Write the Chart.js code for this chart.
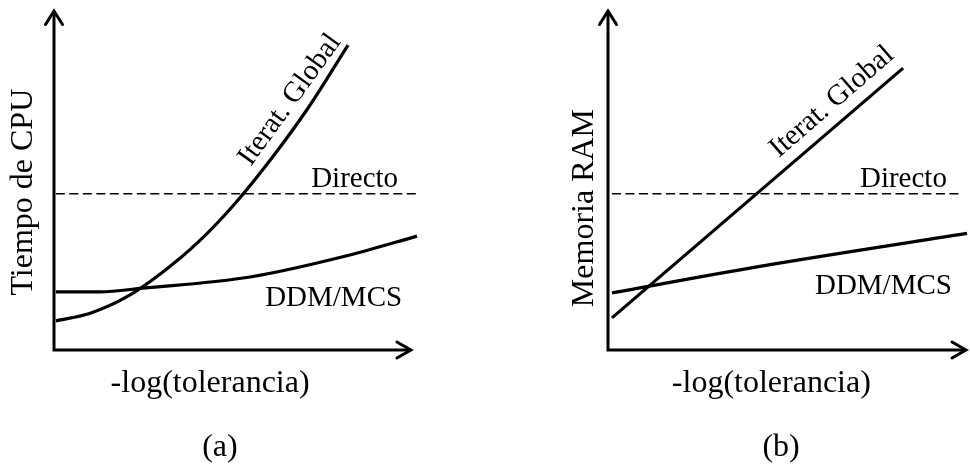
<!DOCTYPE html>
<html>
<head>
<meta charset="utf-8">
<script src="https://cdn.jsdelivr.net/npm/chart.js@4/dist/chart.umd.min.js"></script>
<style>
  html, body { margin: 0; padding: 0; background: #fff; }
  #wrap { position: relative; width: 970px; height: 473px; overflow: hidden; }
  canvas { position: absolute; top: 0; }
  #ca { left: 0; }
  #cb { left: 485px; }
</style>
</head>
<body>
<div id="wrap">
  <canvas id="ca" width="485" height="473"></canvas>
  <canvas id="cb" width="485" height="473"></canvas>
</div>
<script>
// ---- texts ----
const xAxisTitle = '-log(tolerancia)';
const yAxisTitles = ['Tiempo de CPU', 'Memoria RAM'];
const panelLabels = ['(a)', '(b)'];
const seriesNames = ['Iterat. Global', 'Directo', 'DDM/MCS'];

// ---- panel (a): CPU time ----
const cpuIterX = [0.05, 1, 2, 3, 4, 5, 6, 7, 8.1];
const cpuIterY = [0.86, 1.09, 1.57, 2.31, 3.22, 4.35, 5.68, 7.16, 9.02];
const cpuDirX  = [0.05, 10];
const cpuDirY  = [4.62, 4.62];
const cpuDdmX  = [0.05, 1.27, 2.45, 5.40, 8.15, 10];
const cpuDdmY  = [1.72, 1.72, 1.83, 2.16, 2.81, 3.37];

// ---- panel (b): RAM memory ----
const ramIterX = [0.11, 8.22];
const ramIterY = [0.95, 8.34];
const ramDirX  = [0.11, 9.81];
const ramDirY  = [4.62, 4.62];
const ramDdmX  = [0.11, 4.15, 10];
const ramDdmY  = [1.69, 2.46, 3.45];

function pts(xs, ys) { return xs.map((x, i) => ({ x: x, y: ys[i] })); }

const FONT = '"Liberation Serif", "Times New Roman", serif';

function makePlugin(cfg) {
  return {
    id: 'decor',
    afterDatasetsDraw(chart) {
      const ctx = chart.ctx;
      const xs = chart.scales.x, ys = chart.scales.y;
      const X = v => xs.getPixelForValue(v), Y = v => ys.getPixelForValue(v);
      ctx.save();
      ctx.strokeStyle = '#000';
      ctx.fillStyle = '#000';
      ctx.lineWidth = 3;
      ctx.lineCap = 'butt';
      ctx.lineJoin = 'miter';
      // axes
      const ox = X(0), oy = Y(0);
      const ty = Y(cfg.yTip), tx = X(cfg.xTip);
      ctx.beginPath();
      ctx.moveTo(ox, oy + 1.5); ctx.lineTo(ox, ty + 1);
      ctx.moveTo(ox - 1.5, oy); ctx.lineTo(tx - 1, oy);
      ctx.stroke();
      ctx.lineCap = 'round';
      ctx.beginPath();
      ctx.moveTo(ox - 8.5, ty + 14.5); ctx.lineTo(ox, ty + 1); ctx.lineTo(ox + 8.5, ty + 14.5);
      ctx.moveTo(tx - 15, oy - 8); ctx.lineTo(tx - 1, oy); ctx.lineTo(tx - 15, oy + 8);
      ctx.stroke();
      // texts
      cfg.texts.forEach(t => {
        ctx.save();
        ctx.font = t.size + 'px ' + FONT;
        ctx.textAlign = t.align;
        ctx.textBaseline = t.base;
        ctx.translate(X(t.x), Y(t.y));
        ctx.rotate((t.rot || 0) * Math.PI / 180);
        ctx.fillText(t.text, 0, 0);
        ctx.restore();
      });
      ctx.restore();
    }
  };
}

function makeChart(id, iter, dir, ddm, pad, cfg) {
  const solid = { borderColor: '#000', borderWidth: 3.2, pointRadius: 0, fill: false,
                  cubicInterpolationMode: 'monotone', clip: false, borderCapStyle: 'butt' };
  return new Chart(document.getElementById(id), {
    type: 'line',
    data: {
      datasets: [
        Object.assign({ label: seriesNames[0], data: iter }, solid),
        { label: seriesNames[1], data: dir, borderColor: '#000', borderWidth: 1.5,
          borderDash: [9, 4.5], pointRadius: 0, fill: false, clip: false },
        Object.assign({ label: seriesNames[2], data: ddm }, solid)
      ]
    },
    options: {
      responsive: false,
      animation: false,
      events: [],
      layout: { padding: pad },
      scales: {
        x: { type: 'linear', min: 0, max: 10, display: false },
        y: { type: 'linear', min: 0, max: 10, display: false }
      },
      plugins: { legend: { display: false }, tooltip: { enabled: false } }
    },
    plugins: [makePlugin(cfg)]
  });
}

makeChart('ca', pts(cpuIterX, cpuIterY), pts(cpuDirX, cpuDirY), pts(cpuDdmX, cpuDdmY),
  { left: 54, right: 68, top: 12, bottom: 123 },
  { yTip: 10.06, xTip: 9.86,
    texts: [
      { text: seriesNames[0], x: 6.50, y: 7.40, rot: -54, size: 29, align: 'center', base: 'middle' },
      { text: seriesNames[1], x: 9.48, y: 4.82, size: 29, align: 'right', base: 'alphabetic' },
      { text: seriesNames[2], x: 9.59, y: 1.30, size: 29, align: 'right', base: 'alphabetic' },
      { text: yAxisTitles[0], x: -0.83, y: 4.67, rot: -90, size: 32, align: 'center', base: 'middle' },
      { text: xAxisTitle, x: 4.30, y: -0.98, size: 32, align: 'center', base: 'middle' },
      { text: panelLabels[0], x: 4.57, y: -2.90, size: 32, align: 'center', base: 'middle' }
    ] });

makeChart('cb', pts(ramIterX, ramIterY), pts(ramDirX, ramDirY), pts(ramDdmX, ramDdmY),
  { left: 123, right: 3, top: 12, bottom: 123 },
  { yTip: 10.06, xTip: 10,
    texts: [
      { text: seriesNames[0], x: 6.24, y: 7.34, rot: -41, size: 29, align: 'center', base: 'middle' },
      { text: seriesNames[1], x: 9.44, y: 4.82, size: 29, align: 'right', base: 'alphabetic' },
      { text: seriesNames[2], x: 9.58, y: 1.66, size: 29, align: 'right', base: 'alphabetic' },
      { text: yAxisTitles[1], x: -0.64, y: 4.20, rot: -90, size: 32, align: 'center', base: 'middle' },
      { text: xAxisTitle, x: 4.55, y: -0.98, size: 32, align: 'center', base: 'middle' },
      { text: panelLabels[1], x: 4.82, y: -2.90, size: 32, align: 'center', base: 'middle' }
    ] });
</script>
</body>
</html>
